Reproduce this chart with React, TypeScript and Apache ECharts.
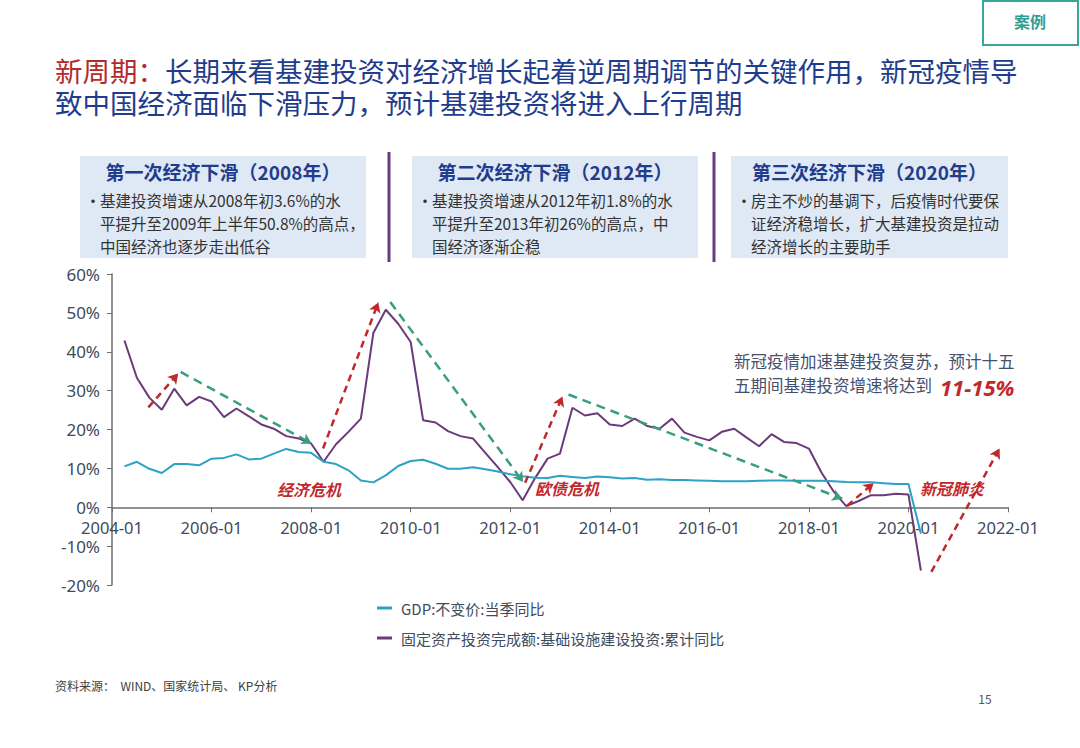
import React, { useEffect, useRef } from "react";
import * as echarts from "echarts";

// ---- data ----
const quarters: string[] = [];
for (let y = 2004; y <= 2020; y++) {
  for (const m of ["03", "06", "09", "12"]) {
    if (y === 2020 && m !== "03") break;
    quarters.push(`${y}-${m}`);
  }
}

const gdpYoY: number[] = [
  10.5, 11.7, 9.9, 8.8,
  11.1, 11.1, 10.8, 12.5,
  12.7, 13.6, 12.3, 12.5,
  13.8, 15.0, 14.2, 14.0,
  11.7, 11.1, 9.5, 6.9,
  6.4, 8.2, 10.6, 11.9,
  12.2, 11.2, 9.9, 9.9,
  10.3, 9.8, 9.2, 8.5,
  8.0, 7.6, 7.5, 8.1,
  7.8, 7.5, 7.9, 7.7,
  7.4, 7.5, 7.1, 7.2,
  7.0, 7.0, 6.9, 6.8,
  6.7, 6.7, 6.7, 6.8,
  6.9, 6.9, 6.8, 6.8,
  6.8, 6.7, 6.5, 6.4,
  6.4, 6.2, 6.0, 6.0,
  -6.8,
];

const infraYoY: number[] = [
  42.9, 33.3, 28.2, 25.1,
  30.5, 26.2, 28.4, 27.2,
  23.2, 25.4, 23.4, 21.3,
  20.2, 18.3, 17.7, 16.4,
  11.7, 16.2, 19.4, 22.8,
  44.8, 50.8, 47.2, 42.5,
  22.4, 21.8, 19.6, 18.3,
  17.7, 14.0, 10.3, 6.5,
  1.8, 7.5, 12.5, 13.8,
  25.6, 23.6, 24.2, 21.3,
  20.9, 22.8, 20.9, 20.2,
  22.8, 19.2, 18.1, 17.2,
  19.4, 20.2, 17.9, 15.7,
  18.8, 16.8, 16.5, 15.1,
  9.0, 4.0, 0.3, 1.6,
  3.1, 3.1, 3.5, 3.3,
  -16.3,
];

const seriesNames = ["GDP:不变价:当季同比", "固定资产投资完成额:基础设施建设投资:累计同比"];

const Y_MIN = -20;
const Y_MAX = 60;

// annotation arrows in data coordinates [year, %]
const redArrows: number[][][] = [
  [[2004.73, 25.7], [2005.33, 34.4]],
  [[2008.24, 15.1], [2009.35, 52.7]],
  [[2012.3, 6.3], [2013.05, 28.5]],
  [[2018.77, 0.4], [2019.3, 6.2]],
  [[2020.46, -16.6], [2021.83, 15.1]],
];
const greenArrows: number[][][] = [
  [[2005.38, 34.8], [2008.01, 16.4]],
  [[2009.59, 52.8], [2012.26, 6.5]],
  [[2013.17, 29.0], [2018.67, 2.2]],
];

const toYear = (q: string) => Number(q.slice(0, 4)) + Number(q.slice(5)) / 12;

const CJK = "'Noto Sans CJK SC', 'Noto Sans', sans-serif";
const RED = "#c0282d";
const BLUE_T = "#1f3d8c";
const TXT = "#333333";
const SLATE = "#44506e";

const GRID_TOP = 274;
const GRID_BOTTOM = 163;
const GRID_H = 748 - GRID_TOP - GRID_BOTTOM;

export default function App() {
  const ref = useRef<HTMLDivElement>(null);
  useEffect(() => {
    if (!ref.current) return;
    const chart = echarts.init(ref.current, undefined, { renderer: "svg" });

    const mkLine = (pairs: number[][][], color: string, dash: number[]) =>
      pairs.map((p) => [
        { coord: p[0], lineStyle: { color, type: dash, width: 2.5 } },
        { coord: p[1], lineStyle: { color, type: dash, width: 2.5 } },
      ]);

    const boxes = [
      {
        x: 80, w: 286, title: "第一次经济下滑（2008年）",
        lines: ["基建投资增速从2008年初3.6%的水", "平提升至2009年上半年50.8%的高点，", "中国经济也逐步走出低谷"],
      },
      {
        x: 412, w: 286, title: "第二次经济下滑（2012年）",
        lines: ["基建投资增速从2012年初1.8%的水", "平提升至2013年初26%的高点，中", "国经济逐渐企稳"],
      },
      {
        x: 731, w: 277, title: "第三次经济下滑（2020年）",
        lines: ["房主不炒的基调下，后疫情时代要保", "证经济稳增长，扩大基建投资是拉动", "经济增长的主要助手"],
      },
    ];

    const graphics: any[] = [];
    graphics.push({
      type: "rect", shape: { x: 983, y: 1, width: 95, height: 44 },
      style: { fill: "#fff", stroke: "#3aa59a", lineWidth: 2 },
    });
    graphics.push({
      type: "text", style: { text: "案例", x: 1030, y: 21, fill: "#2f9e92", font: `bold 16px ${CJK}`, textAlign: "center", textVerticalAlign: "middle" },
    });
    graphics.push({
      type: "text",
      style: {
        text: "{r|新周期：}{b|长期来看基建投资对经济增长起着逆周期调节的关键作用，新冠疫情导}\n{b|致中国经济面临下滑压力，预计基建投资将进入上行周期}",
        x: 55, y: 54, textVerticalAlign: "top",
        rich: {
          r: { fill: "#b22b2b", fontSize: 27.5, fontFamily: CJK, lineHeight: 32 },
          b: { fill: BLUE_T, fontSize: 27.5, fontFamily: CJK, lineHeight: 32 },
        },
      },
    });
    boxes.forEach((b) => {
      graphics.push({ type: "rect", shape: { x: b.x, y: 156, width: b.w, height: 102 }, style: { fill: "#dfe9f5" } });
      graphics.push({
        type: "text", style: { text: b.title, x: b.x + b.w / 2, y: 171, fill: BLUE_T, font: `bold 19px ${CJK}`, textAlign: "center", textVerticalAlign: "middle" },
      });
      graphics.push({
        type: "text", style: { text: "•", x: b.x + 5, y: 200, fill: TXT, font: `16px ${CJK}`, textVerticalAlign: "middle" },
      });
      b.lines.forEach((ln, i) => {
        graphics.push({
          type: "text", style: { text: ln, x: b.x + 20, y: 200 + i * 23, fill: TXT, font: `15.5px ${CJK}`, textVerticalAlign: "middle" },
        });
      });
    });
    [389, 714].forEach((x) => {
      graphics.push({ type: "line", shape: { x1: x, y1: 152, x2: x, y2: 262 }, style: { stroke: "#6a3a7a", lineWidth: 3 } });
    });
    [
      { t: "经济危机", x: 309, y: 489 },
      { t: "欧债危机", x: 567, y: 488 },
      { t: "新冠肺炎", x: 952, y: 488 },
    ].forEach((l) => {
      graphics.push({
        type: "text", style: { text: l.t, x: l.x, y: l.y, fill: RED, font: `italic bold 16px ${CJK}`, textAlign: "center", textVerticalAlign: "middle" },
      });
    });
    graphics.push({
      type: "text", style: { text: "新冠疫情加速基建投资复苏，预计十五", x: 734, y: 361, fill: SLATE, font: `16.5px ${CJK}`, textVerticalAlign: "middle" },
    });
    graphics.push({
      type: "text", style: { text: "五期间基建投资增速将达到", x: 734, y: 385, fill: SLATE, font: `16.5px ${CJK}`, textVerticalAlign: "middle" },
    });
    graphics.push({
      type: "text", style: { text: "11-15%", x: 940, y: 387, fill: RED, font: `italic bold 22px 'Noto Sans', ${CJK}`, textVerticalAlign: "middle" },
    });
    graphics.push({
      type: "text", style: { text: "资料来源：  WIND、国家统计局、 KP分析", x: 55, y: 685, fill: "#404040", font: `12px ${CJK}`, textVerticalAlign: "middle" },
    });
    graphics.push({
      type: "text", style: { text: "15", x: 985, y: 698, fill: "#555", font: `12px ${CJK}`, textAlign: "center", textVerticalAlign: "middle" },
    });

    const axisTextColor = "#404b5c";
    const zeroOffset = -((0 - Y_MIN) / (Y_MAX - Y_MIN)) * GRID_H;
    chart.setOption({
      animation: false,
      backgroundColor: "#ffffff",
      grid: { left: 112, right: 72, top: GRID_TOP, bottom: GRID_BOTTOM },
      xAxis: {
        type: "value", min: 2004, max: 2022, interval: 2,
        position: "bottom", offset: zeroOffset,
        axisLine: { onZero: false, lineStyle: { color: "#6e6e6e", width: 1.5 } },
        axisTick: { show: true, length: 5, lineStyle: { color: "#6e6e6e" } },
        splitLine: { show: false },
        axisLabel: {
          formatter: (v: number) => `${v}-01`, color: axisTextColor, fontSize: 16.5,
          fontFamily: "'Noto Sans', sans-serif", margin: 12,
        },
      },
      yAxis: {
        type: "value", min: Y_MIN, max: Y_MAX, interval: 10,
        axisLine: { show: true, onZero: false, lineStyle: { color: "#6e6e6e", width: 1.5 } },
        axisTick: { show: true, length: 5, lineStyle: { color: "#6e6e6e" } },
        splitLine: { show: false },
        axisLabel: { formatter: "{value}%", color: axisTextColor, fontSize: 17, fontFamily: "'Noto Sans', sans-serif", margin: 12 },
      },
      legend: {
        data: seriesNames, orient: "vertical", left: 372, top: 593, itemGap: 10,
        icon: "rect", itemWidth: 15, itemHeight: 3,
        textStyle: { color: axisTextColor, fontSize: 15, fontFamily: CJK, lineHeight: 20, padding: [0, 0, 0, 4] },
      },
      series: [
        {
          name: seriesNames[0], type: "line", showSymbol: false, symbol: "none",
          data: quarters.map((q, i) => [toYear(q), gdpYoY[i]]),
          lineStyle: { color: "#2aa3c7", width: 2 }, itemStyle: { color: "#2aa3c7" },
          z: 3,
          markLine: {
            silent: true, symbol: ["none", "arrow"], symbolSize: [9, 10],
            label: { show: false },
            data: [...mkLine(redArrows, "#c0282d", [7, 5]), ...mkLine(greenArrows, "#3a9d7e", [9, 6])],
          },
        },
        {
          name: seriesNames[1], type: "line", showSymbol: false, symbol: "none",
          data: quarters.map((q, i) => [toYear(q), infraYoY[i]]),
          lineStyle: { color: "#6a3a7a", width: 2 }, itemStyle: { color: "#6a3a7a" },
          z: 2,
        },
      ],
      graphic: graphics,
    });
    return () => chart.dispose();
  }, []);
  return <div ref={ref} style={{ position: "fixed", left: 0, top: 0, width: 1080, height: 748, background: "#fff" }} />;
}
